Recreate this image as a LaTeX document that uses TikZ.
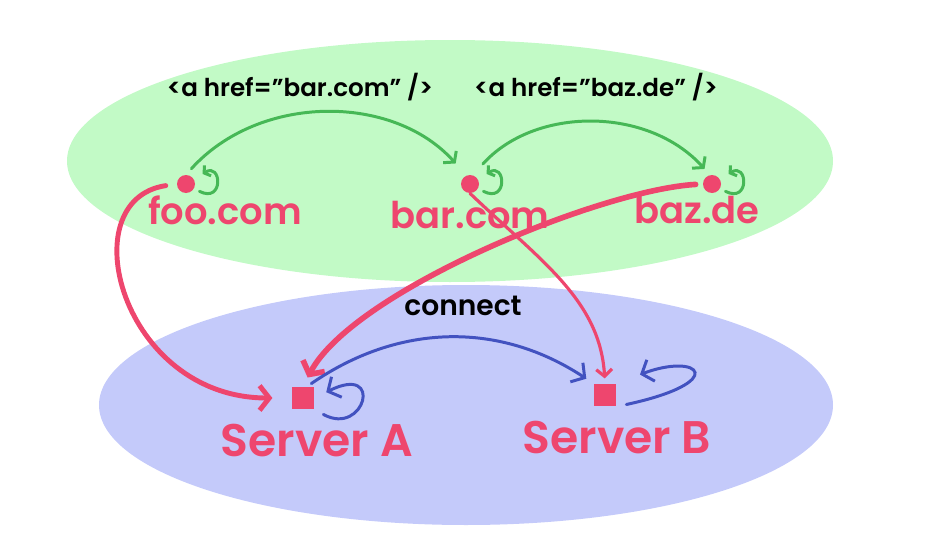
\documentclass[tikz,border=0pt]{standalone}
\usepackage{fontspec}
\setmainfont{Poppins}[BoldFont={* SemiBold}]
\usetikzlibrary{arrows.meta}
\definecolor{hot}{RGB}{238,70,110}
\definecolor{leaf}{RGB}{70,184,86}
\definecolor{leaffill}{RGB}{194,250,198}
\definecolor{ink}{RGB}{66,82,192}
\definecolor{inkfill}{RGB}{196,202,250}
\tikzset{
  site/.style={circle, fill=hot, inner sep=0pt, minimum size=3.6mm},
  server/.style={rectangle, fill=hot, inner sep=0pt, minimum size=4.5mm},
  sitename/.style={text=hot, inner sep=0pt, font=\bfseries\fontsize{21}{24}\selectfont},
  srvname/.style={text=hot, inner sep=0pt, font=\bfseries\fontsize{26}{30}\selectfont},
  hreflabel/.style={inner sep=0pt, font=\bfseries\fontsize{14}{16}\selectfont},
  hyperlink/.style={-{Straight Barb[length=4pt,width=10pt]}, leaf, line width=1.7pt, line cap=round},
  fetch/.style={-{Straight Barb[length=5.5pt,width=14pt]}, hot, line width=2.8pt, line cap=round},
  conn/.style={-{Straight Barb[length=5.5pt,width=13pt]}, ink, line width=1.7pt, line cap=round},
}
\begin{document}
\begin{tikzpicture}
    \useasboundingbox (0,0) rectangle (18.9,10.64);
    \fill[leaffill] (9.0,7.42) ellipse [x radius=7.66cm, y radius=2.42cm];
    \fill[inkfill] (9.32,2.54) ellipse [x radius=7.34cm, y radius=2.40cm];
    % sites
    \node[site] (foo) at (3.72,6.96) {};
    \node[site] (bar) at (9.40,6.96) {};
    \node[site] (baz) at (14.24,6.96) {};
    \node[sitename] (fooname) at (4.50,6.44) {foo.com};
    \node[sitename] (barname) at (9.40,6.34) {bar.com};
    \node[sitename] (bazname) at (13.94,6.44) {baz.de};
    \node[hreflabel] (href1) at (6.00,8.90) {<a href="bar.com" />};
    \node[hreflabel] (href2) at (11.92,8.90) {<a href="baz.de" />};
    % servers
    \node[server] (srvA) at (6.06,2.68) {};
    \node[server] (srvB) at (12.10,2.74) {};
    \node[srvname] (srvAname) at (6.34,1.82) {Server A};
    \node[srvname] (srvBname) at (12.34,1.88) {Server B};
    \node[hreflabel, font=\bfseries\fontsize{16}{18}\selectfont] (connlabel) at (9.26,4.52) {connect};
    % links between sites
    \draw[hyperlink, shorten <=0.16cm, shorten >=0.32cm] (foo.90) to[bend left=48] (bar.113);
    \draw[hyperlink, shorten <=0.3cm, shorten >=0.16cm] (bar.72) to[bend left=48] (baz.103);
    \foreach \s in {foo,bar,baz}
      \draw[hyperlink, -{Straight Barb[length=2.5pt,width=7pt]}, shorten <=0.12cm, shorten >=0.2cm]
        (\s.-30) .. controls +(0.6,-0.3) and +(0.55,0.35) .. (\s.30);
    % sites to servers
    \draw[fetch, shorten <=0.22cm, shorten >=0.38cm] (foo.west) .. controls +(-2.14,-0.32) and +(-3.4,0) .. (srvA.west);
    \draw[fetch, line width=3.2pt, shorten <=0.14cm, shorten >=0.2cm] (baz.west) .. controls +(-2.06,-0.12) and +(1.0,1.9) .. (srvA.north);
    \draw[fetch, line width=1.8pt, -{Straight Barb[length=4pt,width=9pt]}, shorten >=0.1cm] (bar.south) .. controls +(1.4,-1.34) and +(-0.1,1.67) .. (srvB.north);
    % servers
    \draw[conn, shorten <=0.1cm, shorten >=0.17cm] (srvA.70) to[bend left=34] (srvB.north west);
    \draw[conn, shorten <=0.2cm, shorten >=0.26cm] (srvA.south east) .. controls +(1.0,-0.55) and +(1.4,0.7) .. (srvA.east);
    \draw[conn, shorten <=0.2cm, shorten >=0.5cm] (srvB.south east) .. controls +(2.27,0.49) and +(1.67,0.63) .. (srvB.north east);
\end{tikzpicture}
\end{document}
